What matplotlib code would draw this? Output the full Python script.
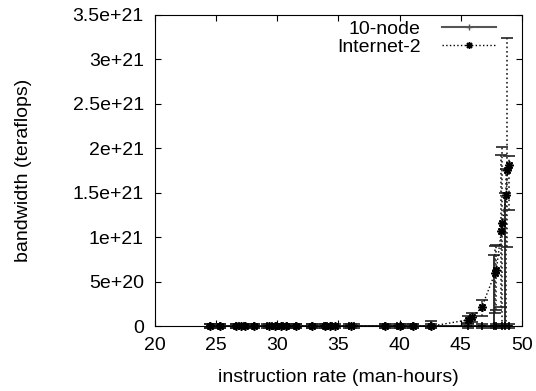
import numpy as np
import matplotlib
matplotlib.use('Agg')
import matplotlib.pyplot as plt
from matplotlib.lines import Line2D

# values (bandwidth in units of 1e21)
x_node = [24.5, 25.3, 26.6, 26.9, 27.3, 28.1, 29.2, 29.6, 30.0, 30.5, 30.8, 31.5,
          32.8, 33.8, 34.1, 34.5, 35.9, 36.3, 38.8, 39.8, 40.1, 41.1, 42.6,
          45.6, 46.7, 47.7, 47.9, 48.4, 48.6, 48.9]
y_node = [0.0] * 30
lo_node = [0.025] * 30
hi_node = [0.025] * 22 + [0.06, 0.025, 0.025, 0.8, 0.025, 0.025, 1.5, 0.025]

x_inet = [24.5, 25.3, 26.6, 27.0, 27.4, 28.1, 29.3, 29.8, 30.3, 30.7, 31.5, 32.8,
          33.9, 34.3, 34.7, 36.0, 38.8, 40.0, 41.1, 42.6,
          45.6, 45.9, 46.7, 47.8, 47.9, 48.3, 48.4, 48.7, 48.8, 48.9]
y_inet = [0.0] * 20 + [0.07, 0.1, 0.21, 0.6, 0.63, 1.07, 1.16, 1.47, 1.75, 1.81]
lo_inet = [0.025] * 20 + [0.04, 0.05, 0.1, 0.45, 0.45, 0.85, 1.16, 1.47, 0.86, 0.5]
hi_inet = [0.025] * 20 + [0.04, 0.05, 0.08, 0.3, 0.28, 0.85, 0.85, 0.3, 1.49, 0.1]

x_ticks = [20, 25, 30, 35, 40, 45, 50]
y_ticks = [0, 0.5, 1, 1.5, 2, 2.5, 3, 3.5]
y_tick_labels = ['0', '5e+20', '1e+21', '1.5e+21', '2e+21', '2.5e+21', '3e+21', '3.5e+21']

plt.rcParams['font.family'] = ['Liberation Sans', 'DejaVu Sans']

fig = plt.figure(figsize=(5.36, 3.91), dpi=100)
ax = fig.add_axes([0.289, 0.166, 0.685, 0.796])

s = 1e21
eb1 = ax.errorbar(x_node, np.array(y_node) * s,
                  yerr=[np.array(lo_node) * s, np.array(hi_node) * s],
                  color='black', lw=1.2, marker='+', ms=6, mew=1.2,
                  ecolor='#222222', elinewidth=1.3, capsize=4, capthick=2.2)
eb2 = ax.errorbar(x_inet, np.array(y_inet) * s,
                  yerr=[np.array(lo_inet) * s, np.array(hi_inet) * s],
                  color='black', lw=1, ls=':', marker=(8, 2, 0), ms=6, mew=1.2,
                  ecolor='#222222', elinewidth=1.2, capsize=4, capthick=2.2)
for c in eb2[2]:
    c.set_linestyle(':')
# points sit on the x axis, let them spill over it like gnuplot does
for eb in (eb1, eb2):
    for art in eb.get_children():
        art.set_clip_on(False)

ax.set_xlim(20, 50)
ax.set_ylim(0, 3.5e21)
ax.set_xticks(x_ticks)
ax.set_yticks([v * s for v in y_ticks])
ax.set_yticklabels(y_tick_labels)
ax.tick_params(direction='in', top=True, right=True, labelsize=14, length=4, pad=8)
ax.set_xlabel('instruction rate (man-hours)', fontsize=14, labelpad=11)
ax.set_ylabel('bandwidth (teraflops)', fontsize=14, labelpad=29)

handles = [Line2D([], [], color='#555555', lw=1.5, marker='+', ms=5),
           Line2D([], [], color='black', lw=1, ls=':', marker=(8, 2, 0), ms=5)]
ax.legend(handles, ['10-node', 'Internet-2'], loc='upper right',
          bbox_to_anchor=(0.935, 0.99), frameon=False,
          markerfirst=False, fontsize=14, handlelength=2.8, borderaxespad=0,
          labelspacing=0.05, handletextpad=1.1, borderpad=0.1)

fig.savefig('out.png', dpi=100)
